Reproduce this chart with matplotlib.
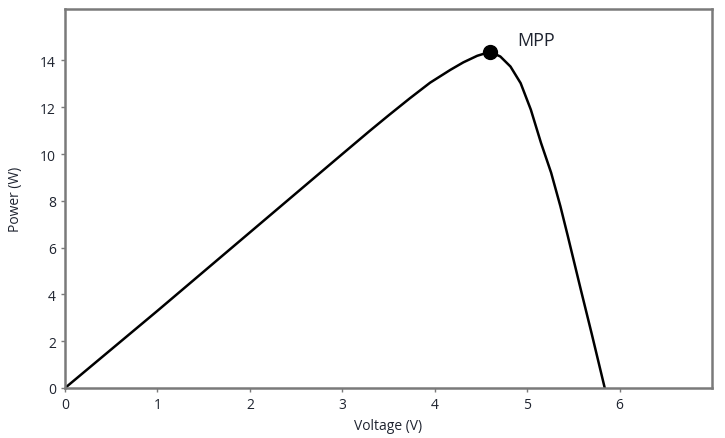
import matplotlib
matplotlib.use("Agg")
import matplotlib.pyplot as plt
import numpy as np

# P-V curve
voltage = [0.0, 1.0, 2.0, 3.0, 3.3, 3.5, 3.73, 3.95, 4.17, 4.31, 4.46, 4.6,
           4.71, 4.82, 4.93, 5.04, 5.15, 5.26, 5.36, 5.44, 5.58, 5.7, 5.84]
power = [0.0, 3.3, 6.65, 10.0, 11.0, 11.65, 12.38, 13.05, 13.6, 13.92, 14.2, 14.37,
         14.17, 13.74, 13.03, 11.9, 10.48, 9.2, 7.77, 6.5, 4.22, 2.3, 0.0]

mpp_v = 4.6
mpp_p = 14.37

x_ticks = [0, 1, 2, 3, 4, 5, 6]
y_ticks = [0, 2, 4, 6, 8, 10, 12, 14]

TEXT_COLOR = '#1f2430'
SPINE_COLOR = '#7a7a7a'

plt.rcParams['font.family'] = ['Open Sans', 'DejaVu Sans']

fig = plt.figure(figsize=(7.25, 4.39), dpi=100)
ax = fig.add_axes([0.0897, 0.1139, 0.8923, 0.8633])

ax.plot(voltage, power, color='black', linewidth=1.8, solid_joinstyle='round')
ax.plot([mpp_v], [mpp_p], 'o', color='black', markersize=10)
ax.text(4.89, 14.88, 'MPP', fontsize=13, color=TEXT_COLOR, va='center', ha='left')

ax.set_xlim(0, 7.0)
ax.set_ylim(0, 16.2)
ax.set_xticks(x_ticks)
ax.set_yticks(y_ticks)
ax.tick_params(axis='both', direction='out', length=3, width=1, color=SPINE_COLOR,
               labelsize=10, labelcolor=TEXT_COLOR)

for sp in ax.spines.values():
    sp.set_color(SPINE_COLOR)
    sp.set_linewidth(1.8)

ax.set_xlabel('Voltage (V)', fontsize=10, color=TEXT_COLOR, labelpad=4)
ax.set_ylabel('Power (W)', fontsize=10, color=TEXT_COLOR, labelpad=12)

fig.savefig('out.png', dpi=100)
